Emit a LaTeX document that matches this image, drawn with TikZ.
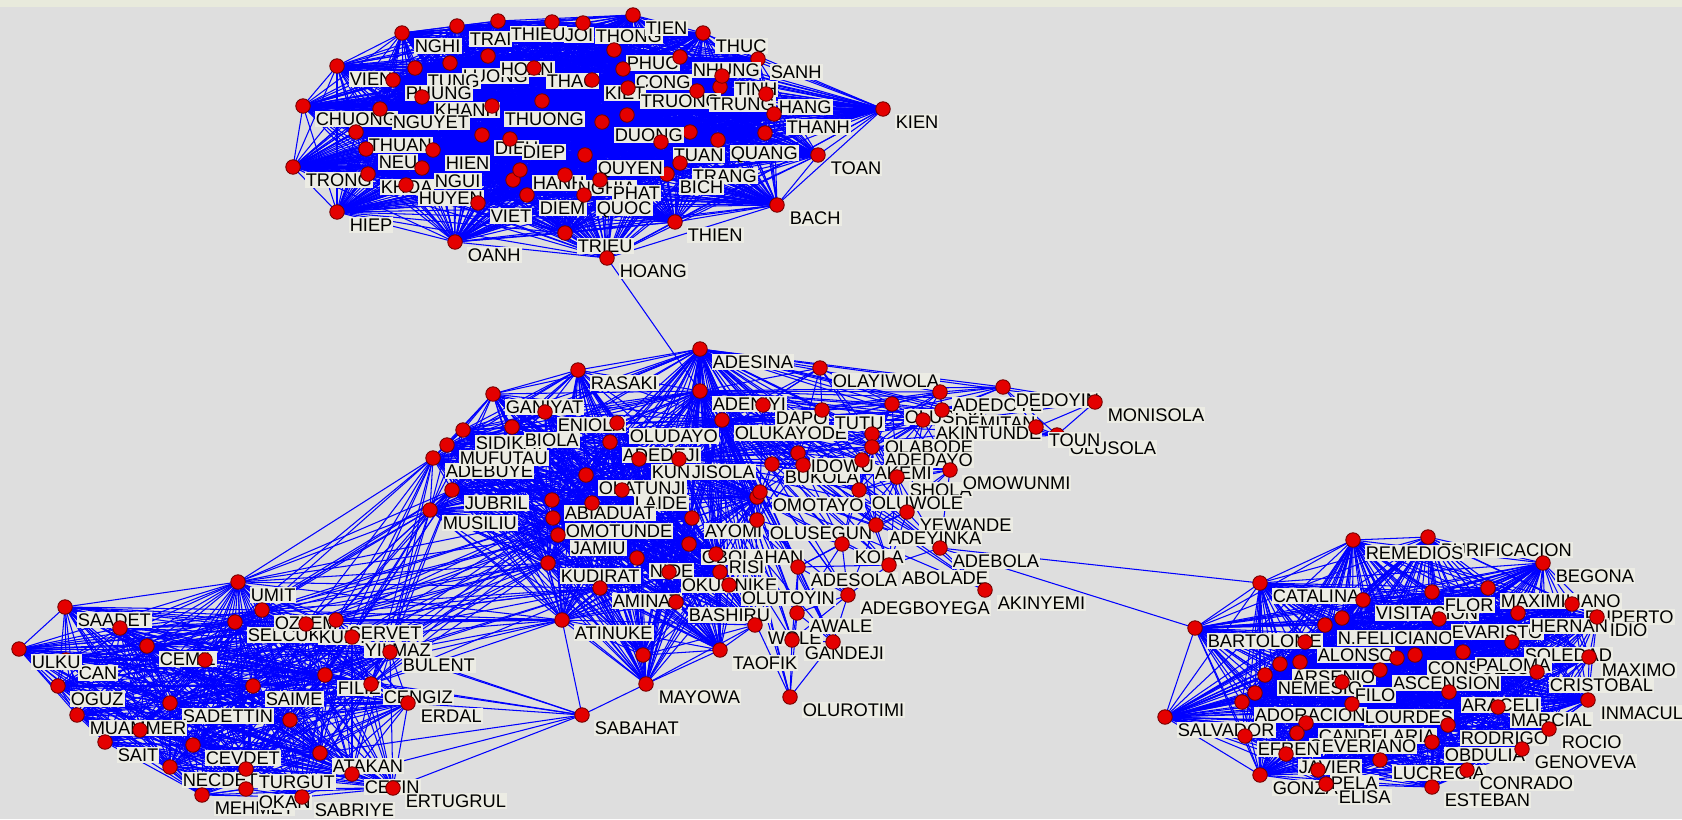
\documentclass[tikz,border=0pt]{standalone}
\usepackage{fontspec}
\setmainfont{Liberation Sans}
\usepackage{xcolor}
\usepackage{tikz}
\usetikzlibrary{positioning}

\definecolor{netblue}{RGB}{0,0,255}
\definecolor{nodered}{RGB}{228,0,0}
\definecolor{paper}{RGB}{222,222,222}
\definecolor{topband}{RGB}{232,234,220}
\definecolor{tagbg}{RGB}{236,236,228}

\pgfdeclarelayer{wires}
\pgfsetlayers{wires,main}

\tikzset{
  dot/.style={circle, fill=nodered, draw=red!45!black, line width=0.25pt, minimum size=1.45mm, inner sep=0pt},
  tag/.style={fill=tagbg, anchor=west, inner xsep=0.3pt, inner ysep=0.5pt, text height=3.7pt, text depth=0pt,
    font=\fontsize{5.2}{5.2}\selectfont},
  edge/.style={netblue, line width=0.3pt},
}

\def\nolabel{-}
\newcommand\who[4]{%
  \node[dot] (#1) at (#2,#3) {};
  \edef\whotxt{#4}%
  \ifx\whotxt\nolabel\else
    \path (#1.center) ++(11,13) node[tag] (#1-tag) {#4};
  \fi}
\newcommand\wireall[1]{%
  \foreach \a/\ax/\ay/\at [count=\i] in #1 {
    \foreach \b/\bx/\by/\bt [count=\j] in #1 {
      \ifnum\j>\i \draw[edge] (\a.center) -- (\b.center); \fi
    }}}
\newcommand\wirenear[2]{%
  \foreach \a/\ax/\ay/\at [count=\i] in #1 {
    \foreach \b/\bx/\by/\bt [count=\j] in #1 {
      \ifnum\j>\i
        \pgfmathtruncatemacro\close{veclen(\ax-\bx,\ay-\by)<#2}
        \ifnum\close=1 \draw[edge] (\a.center) -- (\b.center); \fi
      \fi
    }}}

% Vietnamese group
\def\topnet{trong/293/167/TRONG, hiep/337/212/HIEP, chuong/303/106/CHUONG, vien/337/66/VIEN, nghi/402/33/NGHI, oanh/455/242/OANH,
  t1/542/101/-, t2/513/180/-, t3/627/115/-, t4/690/132/-, t5/765/133/-, t6/720/87/-,
  trai/457/26/TRAI, thieu/498/21/THIEU, joi/552/22/JOI, thong/583/23/THONG, tien/633/15/TIEN, thuc/703/33/THUC,
  sanh/758/59/SANH, kien/883/109/KIEN, toan/818/155/TOAN, bach/777/205/BACH, thien/675/222/THIEN,
  trieu/565/233/TRIEU, hoang/607/258/HOANG,
  luong/450/63/LUONG, hoan/488/56/HOAN, thao/534/68/THAO, tung/415/68/TUNG, phung/393/80/PHUNG,
  khanh/422/97/KHANH, nguyet/380/109/NGUYET, thuong/492/106/THUONG,
  phuc/614/50/PHUC, nhung/680/57/NHUNG, cong/623/69/CONG, kiet/592/80/KIET, truong/628/88/TRUONG,
  trung/697/91/TRUNG, tinh/722/76/TINH, hang/766/94/HANG, thanh/774/114/THANH, duong/602/122/DUONG,
  tuan/661/142/TUAN, quang/718/140/QUANG, trang/680/163/TRANG, bich/667/174/BICH,
  thuan/356/132/THUAN, neu/366/149/NEU, khoa/368/174/KHOA, hien/433/150/HIEN, ngui/422/168/NGUI,
  huyen/406/185/HUYEN, dieu/482/135/DIEU, diep/510/139/DIEP, hanh/520/170/HANH, nghia/565/175/NGHIA,
  viet/478/203/VIET, diem/527/195/DIEM, quyen/585/155/QUYEN, phat/600/180/PHAT, quoc/584/195/QUOC}

% Yoruba group, dense left part
\def\midA{adebuye/433/458/ADEBUYE, mufutau/447/445/MUFUTAU, sidikat/463/430/SIDIKAT, biola/512/427/BIOLA,
  ganiyat/493/394/GANIYAT, rasaki/578/370/RASAKI, adesina/700/349/ADESINA, eniola/545/412/ENIOLA,
  adeniyi/700/391/ADENIYI, oludayo/617/423/OLUDAYO, adedeji/610/442/ADEDEJI, kunle/639/459/KUNLE,
  jisola/679/459/JISOLA, olukayode/722/420/OLUKAYODE, olatunji/586/475/OLATUNJI, laide/622/490/LAIDE,
  jubril/452/490/JUBRIL, musiliu/430/510/MUSILIU, abiaduat/552/500/ABIADUAT, omotunde/553/518/OMOTUNDE,
  jamiu/558/535/JAMIU, nide/637/558/NIDE, kudirat/548/563/KUDIRAT, aminat/600/588/AMINAT,
  atinuke/562/620/ATINUKE, ayomi/692/518/AYOMI, gbolahan/689/544/GBOLAHAN, risi/716/554/RISI,
  okunnike/669/572/OKUNNIKE, bashiru/676/602/BASHIRU, olutoyin/729/585/OLUTOYIN, wole/755/625/WOLE,
  taofik/720/650/TAOFIK, mayowa/646/684/MAYOWA, m1/592/503/-, m2/720/572/-, m3/757/497/-, m4/643/655/-}

% Yoruba group, right part
\def\midB{dapo/763/405/DAPO, olayiwola/820/368/OLAYIWOLA, tutu/822/410/TUTU, oluseyi/892/404/OLUSEYI,
  demitan/942/410/DEMITAN, adedoye/940/392/ADEDOYE, dedoyin/1003/387/DEDOYIN, akintunde/923/420/AKINTUNDE,
  olabode/872/434/OLABODE, olusola/1057/435/OLUSOLA, toun/1036/427/TOUN, monisola/1095/402/MONISOLA,
  bukola/772/464/BUKOLA, idowu/798/453/IDOWU, adedayo/872/447/ADEDAYO, akemi/862/460/AKEMI,
  shola/897/477/SHOLA, omowunmi/950/470/OMOWUNMI, omotayo/760/492/OMOTAYO, olusegun/757/520/OLUSEGUN,
  oluwole/859/490/OLUWOLE, yewande/907/512/YEWANDE, adeyinka/876/525/ADEYINKA, kola/842/544/KOLA,
  adesola/798/567/ADESOLA, abolade/889/565/ABOLADE, adebola/940/548/ADEBOLA, akinyemi/985/590/AKINYEMI,
  adegboyega/848/595/ADEGBOYEGA, awale/797/613/AWALE, gandeji/792/640/GANDEJI, olurotimi/790/697/OLUROTIMI,
  m5/833/642/-, m6/803/465/-}

% Turkish group
\def\leftnet{saadet/65/607/SAADET, can/66/660/CAN, ulku/19/649/ULKU, umit/238/582/UMIT, selcuk/235/622/SELCUK,
  ozlem/262/610/OZLEM, kurt/306/624/KURT, servet/336/620/SERVET, yilmaz/352/637/YILMAZ, bulent/390/652/BULENT,
  cemil/147/646/CEMIL, oguz/58/686/OGUZ, saime/253/686/SAIME, filiz/325/675/FILIZ, cengiz/371/684/CENGIZ,
  erdal/408/703/ERDAL, sadettin/170/703/SADETTIN, muammer/77/715/MUAMMER, sait/105/742/SAIT,
  cevdet/193/745/CEVDET, necdet/170/767/NECDET, turgut/246/769/TURGUT, atakan/320/753/ATAKAN,
  cetin/352/774/CETIN, mehmet/202/795/MEHMET, okan/246/789/OKAN, sabriye/302/797/SABRIYE,
  ertugrul/393/788/ERTUGRUL, k1/120/628/-, k2/205/660/-, k3/290/720/-, k4/140/730/-}

% Spanish group
\def\rightnet{salvador/1165/717/SALVADOR, bartolome/1195/628/BARTOLOME, catalina/1260/583/CATALINA,
  gonzalo/1260/775/GONZALO, purificacion/1428/537/PURIFICACION, remedios/1353/540/REMEDIOS,
  begona/1543/563/BEGONA, visitacion/1363/600/VISITACION, flor/1432/592/FLOR, maximiliano/1488/588/MAXIMILIANO,
  ruperto/1572/604/RUPERTO, feliciano/1325/625/N.FELICIANO, evaristo/1439/619/EVARISTO, hernan/1518/613/HERNAN,
  idio/1597/617/IDIO, alonso/1305/642/ALONSO, soledad/1512/642/SOLEDAD, consuelo/1415/655/CONSUELO,
  paloma/1463/652/PALOMA, maximo/1589/657/MAXIMO, arsenio/1280/664/ARSENIO, nemesio/1265/675/NEMESIO,
  ascension/1380/670/ASCENSION, cristobal/1537/672/CRISTOBAL, filo/1342/682/FILO, araceli/1449/692/ARACELI,
  inmaculada/1588/700/INMACULADA, adoracion/1242/702/ADORACION, lourdes/1352/704/LOURDES,
  marcial/1498/707/MARCIAL, candelaria/1306/723/CANDELARIA, rodrigo/1448/725/RODRIGO, rocio/1549/729/ROCIO,
  severiano/1297/733/SEVERIANO, efren/1245/736/EFREN, obdulia/1432/742/OBDULIA, genoveva/1522/749/GENOVEVA,
  javier/1286/754/JAVIER, lucrecia/1380/760/LUCRECIA, pela/1318/770/PELA, conrado/1467/770/CONRADO,
  elisa/1326/784/ELISA, esteban/1432/787/ESTEBAN, s1/1342/618/-, s2/1255/693/-, s3/1300/662/-, s4/1397/658/-}

\begin{document}
\begin{tikzpicture}[x=0.1mm, y=-0.1mm]
  \useasboundingbox (0,0) rectangle (1682,819);
  \begin{pgfonlayer}{wires}
    \fill[paper] (0,0) rectangle (1682,819);
    \fill[topband] (0,0) rectangle (1682,7);
  \end{pgfonlayer}

  \foreach \nm/\px/\py/\tx in \topnet {\who{\nm}{\px}{\py}{\tx}}
  \foreach \nm/\px/\py/\tx in \midA {\who{\nm}{\px}{\py}{\tx}}
  \foreach \nm/\px/\py/\tx in \midB {\who{\nm}{\px}{\py}{\tx}}
  \foreach \nm/\px/\py/\tx in \leftnet {\who{\nm}{\px}{\py}{\tx}}
  \foreach \nm/\px/\py/\tx in \rightnet {\who{\nm}{\px}{\py}{\tx}}
  \who{sabahat}{582}{715}{SABAHAT}

  \begin{pgfonlayer}{wires}
    \wireall{\topnet}
    \wireall{\midA}
    \wirenear{\midB}{95}
    \foreach \h in {adesina,adeniyi,olukayode,jisola}
      \foreach \b/\bx/\by/\bt in \midB {\draw[edge] (\h.center) -- (\b.center);}
    \wireall{\leftnet}
    \wireall{\rightnet}
    \foreach \a in {musiliu,jubril,kudirat,atinuke,aminat,jamiu,omotunde,adebuye}
      \foreach \b in {umit,ozlem,selcuk,kurt,servet,yilmaz,bulent,filiz,cengiz}
        \draw[edge] (\a.center) -- (\b.center);
    \foreach \b in {atinuke,mayowa,bulent,cengiz,erdal,atakan,ertugrul,yilmaz,filiz,cetin}
      \draw[edge] (sabahat.center) -- (\b.center);
    \draw[edge] (hoang.center) -- (adeniyi.center);
    \draw[edge] (adebola.center) -- (catalina.center);
    \draw[edge] (adebola.center) -- (bartolome.center);
  \end{pgfonlayer}
\end{tikzpicture}
\end{document}
